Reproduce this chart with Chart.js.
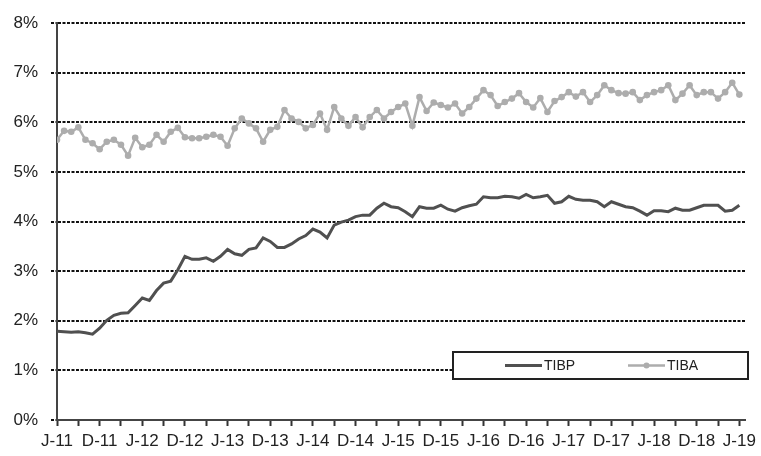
<!DOCTYPE html>
<html>
<head>
<meta charset="utf-8">
<script src="https://cdn.jsdelivr.net/npm/chart.js@4/dist/chart.umd.min.js"></script>
<style>
  body { margin: 0; background: #fff; }
  #wrap { width: 761px; height: 456px; }
</style>
</head>
<body>
<div id="wrap"><canvas id="rates" width="761" height="456"></canvas></div>
<script>
// monthly, June 2011 .. June 2019
const tickLabels = ['J-11','D-11','J-12','D-12','J-13','D-13','J-14','D-14','J-15',
                    'D-15','J-16','D-16','J-17','D-17','J-18','D-18','J-19'];

const tibp = [
  1.79, 1.78, 1.77, 1.78, 1.76, 1.73, 1.85, 2.01, 2.11, 2.15, 2.16, 2.31, 2.46, 2.41, 2.61, 2.76,
  2.80, 3.03, 3.30, 3.24, 3.24, 3.27, 3.20, 3.30, 3.44, 3.35, 3.32, 3.44, 3.47, 3.67, 3.60, 3.48,
  3.48, 3.55, 3.65, 3.72, 3.85, 3.79, 3.67, 3.93, 3.99, 4.03, 4.10, 4.13, 4.13, 4.27, 4.37, 4.30,
  4.28, 4.20, 4.10, 4.30, 4.27, 4.27, 4.33, 4.25, 4.21, 4.28, 4.32, 4.35, 4.50, 4.48, 4.48, 4.51,
  4.50, 4.47, 4.55, 4.48, 4.50, 4.53, 4.37, 4.40, 4.51, 4.45, 4.43, 4.43, 4.40, 4.30, 4.40, 4.35,
  4.30, 4.28, 4.21, 4.13, 4.22, 4.22, 4.20, 4.27, 4.23, 4.23, 4.28, 4.33, 4.33, 4.33, 4.21, 4.23,
  4.33
];

const tiba = [
  5.65, 5.83, 5.81, 5.90, 5.65, 5.58, 5.46, 5.61, 5.65, 5.55, 5.33, 5.69, 5.50, 5.55, 5.75, 5.61,
  5.81, 5.89, 5.70, 5.68, 5.68, 5.71, 5.75, 5.71, 5.53, 5.88, 6.08, 5.98, 5.88, 5.61, 5.85, 5.91,
  6.25, 6.08, 6.01, 5.88, 5.95, 6.18, 5.85, 6.31, 6.08, 5.93, 6.11, 5.90, 6.11, 6.25, 6.08, 6.21,
  6.31, 6.38, 5.93, 6.51, 6.23, 6.40, 6.35, 6.30, 6.38, 6.18, 6.31, 6.48, 6.65, 6.55, 6.33, 6.41,
  6.48, 6.59, 6.41, 6.30, 6.49, 6.21, 6.43, 6.51, 6.61, 6.52, 6.61, 6.41, 6.55, 6.75, 6.65, 6.59,
  6.58, 6.61, 6.45, 6.55, 6.61, 6.65, 6.75, 6.45, 6.58, 6.75, 6.55, 6.61, 6.61, 6.48, 6.61, 6.80,
  6.56
];

const toPoints = arr => arr.map((v, i) => ({ x: i, y: v }));

const boxLegend = {
  id: 'boxLegend',
  afterDraw(chart) {
    const ctx = chart.ctx;
    const ds = chart.data.datasets;
    const x0 = 453, y0 = 352, w = 295, h = 27, cy = y0 + h / 2;
    ctx.save();
    ctx.fillStyle = '#fff';
    ctx.fillRect(x0, y0, w, h);
    ctx.strokeStyle = '#222';
    ctx.lineWidth = 2;
    ctx.strokeRect(x0, y0, w, h);

    ctx.font = '14px "Liberation Sans", Arial, sans-serif';
    ctx.textBaseline = 'middle';
    ctx.fillStyle = '#222';

    // TIBP
    ctx.strokeStyle = ds[0].borderColor;
    ctx.lineWidth = ds[0].borderWidth;
    ctx.beginPath(); ctx.moveTo(505, cy); ctx.lineTo(542, cy); ctx.stroke();
    ctx.fillText(ds[0].label, 544, cy + 1);

    // TIBA
    ctx.strokeStyle = ds[1].borderColor;
    ctx.lineWidth = ds[1].borderWidth;
    ctx.beginPath(); ctx.moveTo(628, cy); ctx.lineTo(665, cy); ctx.stroke();
    ctx.fillStyle = ds[1].pointBackgroundColor;
    ctx.beginPath(); ctx.arc(646.5, cy, 3, 0, Math.PI * 2); ctx.fill();
    ctx.fillStyle = '#222';
    ctx.fillText(ds[1].label, 667, cy + 1);
    ctx.restore();
  }
};

new Chart(document.getElementById('rates'), {
  type: 'line',
  data: {
    datasets: [
      {
        label: 'TIBP',
        data: toPoints(tibp),
        borderColor: '#505050',
        borderWidth: 3,
        pointRadius: 0,
        tension: 0
      },
      {
        label: 'TIBA',
        data: toPoints(tiba),
        borderColor: '#adadad',
        borderWidth: 2.5,
        pointRadius: 3.3,
        pointBackgroundColor: '#adadad',
        pointBorderColor: '#adadad',
        pointBorderWidth: 0,
        tension: 0
      }
    ]
  },
  options: {
    responsive: false,
    animation: false,
    layout: { padding: { top: 19, right: 14, left: 0, bottom: 0 } },
    plugins: {
      legend: { display: false },
      tooltip: { enabled: false }
    },
    scales: {
      x: {
        type: 'linear',
        min: 0,
        max: 96.8,
        afterBuildTicks: (scale) => {
          const t = [];
          for (let v = 0; v <= 96; v += 3) t.push({ value: v });
          scale.ticks = t;
        },
        afterFit: (scale) => { scale.height = 36; },
        border: { display: true, color: '#444', width: 2 },
        grid: {
          drawOnChartArea: false,
          drawTicks: true,
          tickLength: 6,
          tickColor: '#333',
          tickWidth: 2
        },
        ticks: {
          autoSkip: false,
          maxRotation: 0,
          padding: 5,
          color: '#222',
          font: { family: '"Liberation Sans", Arial, sans-serif', size: 17 },
          callback: (v) => (v % 6 === 0 ? tickLabels[v / 6] : '')
        }
      },
      y: {
        min: 0,
        max: 8,
        afterFit: (scale) => { scale.width = 57; },
        grid: {
          color: (c) => (c.tick && c.tick.value === 0 ? 'rgba(0,0,0,0)' : '#111'),
          lineWidth: 2,
          tickLength: 6,
          tickColor: '#111',
          tickWidth: 2,
          tickBorderDash: [3, 1.5]
        },
        // in v4 border.dash styles the grid lines; the axis line stays solid
        border: { display: true, color: '#444', width: 2, dash: [3, 1.5] },
        ticks: {
          stepSize: 1,
          padding: 13,
          color: '#222',
          font: { family: '"Liberation Sans", Arial, sans-serif', size: 17 },
          callback: (v) => v + '%'
        }
      }
    }
  },
  plugins: [boxLegend]
});
</script>
</body>
</html>
